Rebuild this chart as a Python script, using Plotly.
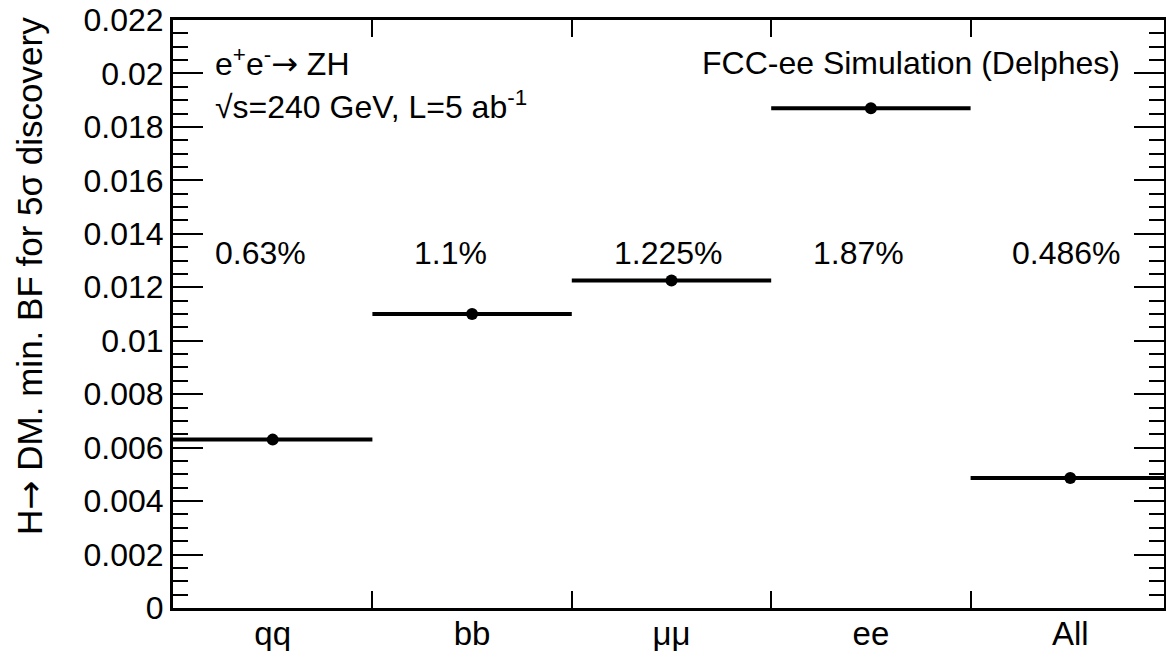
import plotly.graph_objects as go

# ---- data ----
categories = ["qq", "bb", "μμ", "ee", "All"]
min_bf = [0.0063, 0.011, 0.01225, 0.0187, 0.00486]
pct_labels = ["0.63%", "1.1%", "1.225%", "1.87%", "0.486%"]
y_tick_vals = [0, 0.002, 0.004, 0.006, 0.008, 0.01, 0.012, 0.014, 0.016, 0.018, 0.02, 0.022]
y_tick_labels = ["0", "0.002", "0.004", "0.006", "0.008", "0.01", "0.012", "0.014",
                 "0.016", "0.018", "0.02", "0.022"]

FONT = "Liberation Sans, Arial, Helvetica, sans-serif"
FS = 32
ARROW = "<span style=\"font-family:'DejaVu Sans'\">→</span>"

x_centers = [i + 0.5 for i in range(len(categories))]
boundaries = [i for i in range(1, len(categories))]

fig = go.Figure()
fig.add_trace(go.Scatter(
    x=x_centers, y=min_bf, mode="markers",
    marker=dict(size=12, color="black"),
    error_x=dict(type="constant", value=0.5, thickness=4, width=0, color="black"),
    showlegend=False, hoverinfo="skip",
))

annotations = []
for i, lab in enumerate(pct_labels):
    annotations.append(dict(x=i + 0.2, y=0.0133, xref="x", yref="y", text=lab,
                            showarrow=False, xanchor="left", yanchor="middle",
                            font=dict(family=FONT, size=FS, color="black")))

annotations += [
    dict(x=0.2, y=0.0204, xref="x", yref="y",
         text="e<sup>+</sup>e<sup>-</sup>" + ARROW + " ZH",
         showarrow=False, xanchor="left", yanchor="middle",
         font=dict(family=FONT, size=FS, color="black")),
    dict(x=0.2, y=0.01882, xref="x", yref="y", text="√s=240 GeV, L=5 ab<sup>-1</sup>",
         showarrow=False, xanchor="left", yanchor="middle",
         font=dict(family=FONT, size=FS, color="black")),
    dict(x=4.76, y=0.0204, xref="x", yref="y", text="FCC-ee Simulation (Delphes)",
         showarrow=False, xanchor="right", yanchor="middle",
         font=dict(family=FONT, size=FS, color="black")),
    dict(x=-0.1443, y=1.0085, xref="paper", yref="paper",
         text="H" + ARROW + " DM. min. BF for 5σ discovery", textangle=-90,
         showarrow=False, xanchor="center", yanchor="top",
         font=dict(family=FONT, size=35, color="black")),
]

fig.update_layout(
    width=1166, height=651,
    margin=dict(l=173, r=2, t=20, b=43, autoexpand=False),
    paper_bgcolor="white", plot_bgcolor="white",
    font=dict(family=FONT, size=FS, color="black"),
    annotations=annotations,
    xaxis=dict(
        range=[0, 4.97], showgrid=False, zeroline=False, automargin=False,
        showline=True, linecolor="black", linewidth=3, mirror="allticks",
        tickmode="array", tickvals=x_centers, ticktext=categories, ticks="",
        ticklabelstandoff=-6,
        tickfont=dict(family=FONT, size=33, color="black"),
        minor=dict(tickmode="array", tickvals=boundaries, ticks="inside",
                   ticklen=17, tickwidth=2, tickcolor="black", showgrid=False),
    ),
    yaxis=dict(
        range=[0, 0.022], showgrid=False, zeroline=False, automargin=False,
        showline=True, linecolor="black", linewidth=3, mirror="allticks",
        tickmode="array", tickvals=y_tick_vals, ticktext=y_tick_labels,
        ticks="inside", ticklen=30, tickwidth=2, tickcolor="black",
        tickfont=dict(family=FONT, size=FS, color="black"),
        minor=dict(dtick=0.0005, tick0=0, ticks="inside", ticklen=15,
                   tickwidth=2, tickcolor="black", showgrid=False),
    ),
)

fig.write_html("out.html", config={"displayModeBar": False},
               post_script="document.body.style.margin='0px';document.body.style.overflow='hidden';")
